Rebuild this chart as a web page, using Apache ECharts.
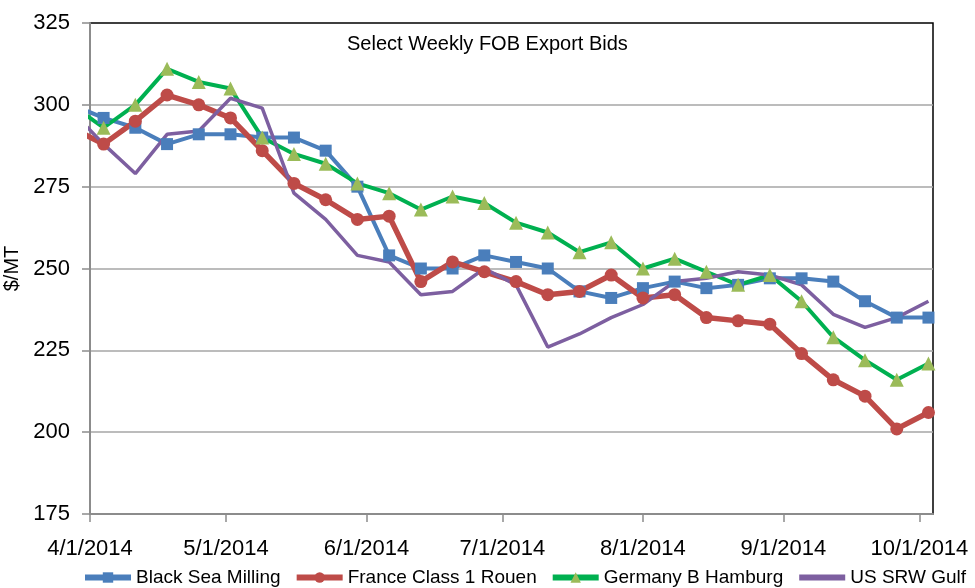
<!DOCTYPE html>
<html>
<head>
<meta charset="utf-8">
<script src="https://cdn.jsdelivr.net/npm/echarts@6/dist/echarts.min.js"></script>
<style>
  html, body { margin: 0; padding: 0; background: #fff; }
  #main { width: 975px; height: 588px; }
</style>
</head>
<body>
<div id="main"></div>
<script>
  // weekly Friday quotes, first one sits before the axis start and is clipped
  const weeks = [
    '2014-03-28', '2014-04-04', '2014-04-11', '2014-04-18', '2014-04-25',
    '2014-05-02', '2014-05-09', '2014-05-16', '2014-05-23', '2014-05-30',
    '2014-06-06', '2014-06-13', '2014-06-20', '2014-06-27', '2014-07-04',
    '2014-07-11', '2014-07-18', '2014-07-25', '2014-08-01', '2014-08-08',
    '2014-08-15', '2014-08-22', '2014-08-29', '2014-09-05', '2014-09-12',
    '2014-09-19', '2014-09-26', '2014-10-03'
  ];
  const blackSea = [300, 296, 293, 288, 291, 291, 290, 290, 286, 275, 254, 250, 250, 254, 252,
    250, 243, 241, 244, 246, 244, 245, 247, 247, 246, 240, 235, 235];
  const franceRouen = [293, 288, 295, 303, 300, 296, 286, 276, 271, 265, 266, 246, 252, 249, 246,
    242, 243, 248, 241, 242, 235, 234, 233, 224, 216, 211, 201, 206];
  const germanyHamburg = [300, 293, 300, 311, 307, 305, 290, 285, 282, 276, 273, 268, 272, 270, 264,
    261, 255, 258, 250, 253, 249, 245, 248, 240, 229, 222, 216, 221];
  const usSrwGulf = [298, 288, 279, 291, 292, 302, 299, 273, 265, 254, 252, 242, 243, 250, 245,
    226, 230, 235, 239, 246, 247, 249, 248, 245, 236, 232, 235, 240];
  const monthTicks = ['2014-04-01', '2014-05-01', '2014-06-01', '2014-07-01',
    '2014-08-01', '2014-09-01', '2014-10-01'];
  const yTicks = [175, 200, 225, 250, 275, 300, 325];

  const DAY = 86400000;
  const origin = Date.UTC(2014, 3, 1);
  // x is counted in days from 4/1/2014
  function day(s) {
    const p = s.split('-');
    return (Date.UTC(+p[0], +p[1] - 1, +p[2]) - origin) / DAY;
  }
  function pairs(vals) {
    return weeks.map((w, i) => [day(w), vals[i]]);
  }

  const font = 'Liberation Sans, Arial, sans-serif';
  const tickVals = monthTicks.map(day);
  const myechart = echarts.init(document.getElementById('main'));
  const option = {
    animation: false,
    textStyle: { fontFamily: font },
    title: {
      text: 'Select Weekly FOB Export Bids',
      left: 347,
      top: 34,
      padding: 0,
      textStyle: { fontFamily: font, fontSize: 20, fontWeight: 'normal', color: '#000' }
    },
    legend: {
      left: 82,
      top: 568,
      width: 890,
      padding: 0,
      itemWidth: 46,
      itemHeight: 13,
      itemGap: 13,
      textStyle: { fontFamily: font, fontSize: 19, color: '#000' },
      data: [
        { name: 'Black Sea Milling', lineStyle: { width: 6 } },
        { name: 'France Class 1 Rouen', lineStyle: { width: 6 } },
        { name: 'Germany B Hamburg', lineStyle: { width: 6 } },
        { name: 'US SRW Gulf', lineStyle: { width: 6 }, itemStyle: { opacity: 0 } }
      ]
    },
    grid: {
      left: 90, right: 42, top: 23, bottom: 74,
      outerBoundsMode: 'none',
      containLabel: false,
      show: true, borderColor: '#000', borderWidth: 1.5
    },
    xAxis: {
      type: 'value',
      min: day('2014-04-01'),
      max: day('2014-10-04'),
      axisLine: { onZero: false, lineStyle: { color: '#8c8c8c', width: 2 } },
      axisTick: { customValues: tickVals, length: 8, lineStyle: { color: '#8c8c8c', width: 1.5 } },
      axisLabel: {
        customValues: tickVals,
        margin: 24,
        fontSize: 22,
        color: '#000',
        formatter: function (v) {
          const d = new Date(origin + v * DAY);
          return (d.getUTCMonth() + 1) + '/' + d.getUTCDate() + '/' + d.getUTCFullYear();
        }
      },
      splitLine: { show: false }
    },
    yAxis: {
      type: 'value',
      min: yTicks[0],
      max: yTicks[yTicks.length - 1],
      interval: 25,
      name: '$/MT',
      nameLocation: 'middle',
      nameGap: 62,
      nameTextStyle: { fontSize: 20, color: '#000', fontFamily: font },
      axisLine: { show: true, lineStyle: { color: '#8c8c8c', width: 2 } },
      axisTick: { show: true, length: 8, lineStyle: { color: '#8c8c8c', width: 1.5 } },
      axisLabel: { margin: 20, fontSize: 22, color: '#000' },
      splitLine: { showMaxLine: false, showMinLine: false, lineStyle: { color: '#a6a6a6', width: 1.5 } }
    },
    series: [
      {
        name: 'Black Sea Milling',
        type: 'line',
        data: pairs(blackSea),
        symbol: 'rect',
        symbolSize: 12,
        color: '#4a7ebb',
        lineStyle: { width: 4, color: '#4a7ebb' },
        itemStyle: { color: '#4a7ebb' }
      },
      {
        name: 'France Class 1 Rouen',
        type: 'line',
        data: pairs(franceRouen),
        symbol: 'circle',
        symbolSize: 13,
        color: '#be4b48',
        lineStyle: { width: 5.5, color: '#be4b48' },
        itemStyle: { color: '#be4b48' }
      },
      {
        name: 'Germany B Hamburg',
        type: 'line',
        data: pairs(germanyHamburg),
        symbol: 'triangle',
        symbolSize: 14,
        color: '#00b050',
        lineStyle: { width: 4, color: '#00b050' },
        itemStyle: { color: '#9bbb59' }
      },
      {
        name: 'US SRW Gulf',
        type: 'line',
        data: pairs(usSrwGulf),
        symbol: 'none',
        color: '#7d5fa0',
        lineStyle: { width: 3.5, color: '#7d5fa0' }
      }
    ]
  };
  myechart.setOption(option);
</script>
</body>
</html>
